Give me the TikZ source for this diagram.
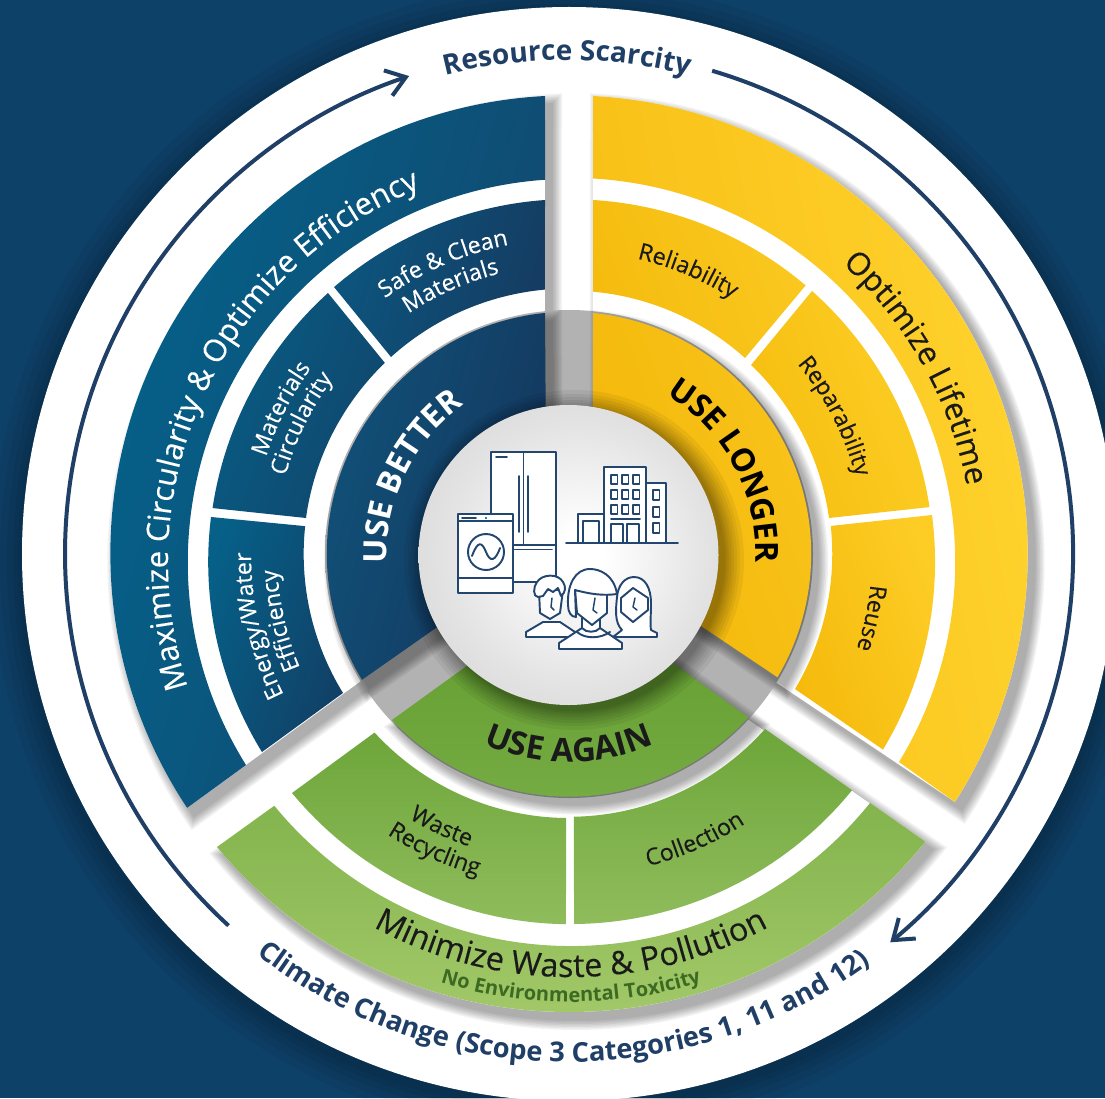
\documentclass[tikz,border=0pt]{standalone}
\usepackage{fontspec}
\setmainfont{Open Sans}
\newfontfamily\medf{Open Sans}[FakeBold=0.25]
\usetikzlibrary{decorations.text,arrows.meta}
\definecolor{navybg}{HTML}{0E4168}
\definecolor{ink}{HTML}{1F3F66}
\definecolor{icon}{HTML}{23466F}
\definecolor{txt}{HTML}{1A1A1A}
\definecolor{tox}{HTML}{3D6A23}
\pgfdeclareradialshading{hubshade}{\pgfpoint{2bp}{0bp}}{color(0bp)=(white);color(4bp)=(white);color(22bp)=(black!11);color(50bp)=(black!24);color(60bp)=(black!26)}
\pgfdeclareradialshading{grayshade}{\pgfpoint{0bp}{0bp}}{color(0bp)=(black!30);color(31bp)=(black!30);color(40bp)=(black!24);color(50bp)=(black!17)}
\newcommand\fs[1]{\fontsize{#1}{#1}\selectfont}
% ring-segment path: outer arc A->B, then inner arc C->D
\newcommand\Seg[9]{%
  \pgfmathsetmacro\aA{atan2(#3-\ocy,#2-\ocx)}%
  \pgfmathsetmacro\aB{atan2(#5-\ocy,#4-\ocx)}%
  \pgfmathsetmacro\aB{\aB+360*((\aB-\aA)<-180)-360*((\aB-\aA)>180)}%
  \pgfmathsetmacro\aC{atan2(#7-\icy,#6-\icx)}%
  \pgfmathsetmacro\aD{atan2(#9-\icy,#8-\icx)}%
  \pgfmathsetmacro\aD{\aD+360*((\aD-\aC)<-180)-360*((\aD-\aC)>180)}%
  \pgfmathsetmacro\rO{veclen(#2-\ocx,#3-\ocy)}%
  \pgfmathsetmacro\rI{veclen(#6-\icx,#7-\icy)}%
  \path[#1] (#2,#3) arc[start angle=\aA,end angle=\aB,radius=\rO] -- (#6,#7) arc[start angle=\aC,end angle=\aD,radius=\rI] -- cycle;%
}
\newcommand\RingA{\def\ocx{569}\def\ocy{554}\def\icx{571}\def\icy{562}}
\newcommand\RingB{\def\ocx{571}\def\ocy{562}\def\icx{569}\def\icy{554}}
\newcommand\RingC{\def\ocx{569}\def\ocy{554}\def\icx{569}\def\icy{554}}
% whole sectors, used for the cast shadows only
\newcommand\hBlue[1]{\RingC\Seg{#1}{545}{96}{187}{808}{480}{594}{545}{460}}
\newcommand\hYel[1]{\RingC\Seg{#1}{593}{96}{955}{802}{660}{605}{593}{452}}
\newcommand\hGrn[1]{\RingC\Seg{#1}{217}{847}{926}{842}{650}{652}{490}{644}}
% segments
\newcommand\sBlueOut[1]{\RingA\Seg{#1}{545}{96}{187}{808}{246}{765}{545}{179}}
\newcommand\sYelOut[1]{\RingA\Seg{#1}{593}{96}{955}{802}{899}{762}{593}{179}}
\newcommand\sGrnOut[1]{\RingA\Seg{#1}{217}{847}{926}{842}{870}{803}{274}{806}}
\newcommand\sSafe[1]{\RingB\Seg{#1}{545}{200}{334}{287}{391}{357}{545}{291}}
\newcommand\sMat[1]{\RingB\Seg{#1}{328}{293}{212}{508}{306}{518}{384}{362}}
\newcommand\sEner[1]{\RingB\Seg{#1}{211}{517}{262}{752}{343}{693}{304}{526}}
\newcommand\sRel[1]{\RingB\Seg{#1}{593}{200}{806}{285}{745}{358}{593}{292}}
\newcommand\sRep[1]{\RingB\Seg{#1}{812}{291}{930}{507}{829}{518}{752}{364}}
\newcommand\sReu[1]{\RingB\Seg{#1}{932}{515}{882}{749}{795}{689}{830}{526}}
\newcommand\sWas[1]{\RingB\Seg{#1}{292}{793}{566}{924}{566}{818}{373}{734}}
\newcommand\sCol[1]{\RingB\Seg{#1}{574}{924}{853}{791}{765}{729}{574}{818}}
\newcommand\sBlueIn[1]{\RingC\Seg{#1}{545}{313}{360}{681}{500}{583}{545}{479}}
\newcommand\sYelIn[1]{\RingC\Seg{#1}{593}{313}{777}{677}{640}{585}{593}{480}}
\newcommand\sGrnIn[1]{\RingC\Seg{#1}{392}{720}{748}{717}{620}{625}{520}{628}}
\newcommand\Shadow[1]{\foreach \w in {20,17,14,11,8,5,2}{\begin{scope}[transparency group,opacity=.05]#1{shift={(7,8)},fill=black,draw=black,line width=\w*0.75pt}\end{scope}}}
% curved labels: clockwise (letters outward) and counter-clockwise (letters inward)
\newcommand\CW[6]{\pgfmathsetmacro\ta{#5-85}\pgfmathsetmacro\tb{#5+85}%
  \path[decorate,decoration={text along path,text={|#1|#6},text align=center}] (#2,#3) ++(\ta:#4) arc[start angle=\ta,end angle=\tb,radius=#4];}
\newcommand\CCW[6]{\pgfmathsetmacro\ta{#5+85}\pgfmathsetmacro\tb{#5-85}%
  \path[decorate,decoration={text along path,text={|#1|#6},text align=center}] (#2,#3) ++(\ta:#4) arc[start angle=\ta,end angle=\tb,radius=#4];}
\tikzset{
  iconline/.style={draw=icon,line width=1.45pt,line join=round,line cap=round},
  iconfill/.style={iconline,fill=white},
  thinicon/.style={iconline,line width=1.1pt},
  ringline/.style={draw=ink,line width=3pt},
  arrowed/.style={-{Straight Barb[length=14pt,width=20pt,line width=3pt]}}
}
\begin{document}
\begin{tikzpicture}[x=0.75pt,y=-0.75pt]
\useasboundingbox (0,0) rectangle (1105,1098);
\clip (0,0) rectangle (1105,1098);
\fill[navybg] (0,0) rectangle (1105,1098);
% white disc with its shadow
\foreach \w in {30,22,15,9,4}{\fill[black,opacity=.05] (569,560) circle[radius=547+\w];}
\fill[white] (569,554) circle[radius=547];
% scarcity ring arrows
\draw[ringline,arrowed] (569,554) ++(132.5:504) arc[start angle=132.5,end angle=251.5,radius=504];
\draw[ringline,arrowed] (569,554) ++(286.5:504) arc[start angle=286.5,end angle=410.4,radius=504];
\CW{\fs{21}\bfseries\color{ink}}{567}{554}{494}{270}{Resource Scarcity}
\CCW{\fs{20.5}\bfseries\color{ink}}{569}{554}{508}{90.8}{Climate Change (Scope 3 Categories 1, 11 and 12)}
% shadows of the whole sectors on the white
\Shadow\hBlue \Shadow\hYel \Shadow\hGrn
\hBlue{fill=white} \hYel{fill=white} \hGrn{fill=white}
% hub backing disc
\path[shading=grayshade] (569,554) circle[radius=244];
% shadows of the inner band
\Shadow\sBlueIn \Shadow\sYelIn \Shadow\sGrnIn
% outer band
\sBlueOut{shade,left color={rgb,255:red,4;green,98;blue,139},right color={rgb,255:red,19;green,70;blue,108},shading angle=75}
\sYelOut{shade,left color={rgb,255:red,247;green,190;blue,20},right color={rgb,255:red,255;green,211;blue,46},shading angle=100}
\sGrnOut{shade,top color={rgb,255:red,131;green,180;blue,77},bottom color={rgb,255:red,165;green,202;blue,107}}
% middle band
\sSafe{shade,left color={rgb,255:red,12;green,85;blue,126},right color={rgb,255:red,21;green,60;blue,98},shading angle=75}
\sMat{shade,left color={rgb,255:red,8;green,92;blue,132},right color={rgb,255:red,17;green,70;blue,108},shading angle=70}
\sEner{shade,left color={rgb,255:red,6;green,96;blue,136},right color={rgb,255:red,17;green,64;blue,102},shading angle=70}
\sRel{shade,left color={rgb,255:red,245;green,188;blue,14},right color={rgb,255:red,250;green,200;blue,32},shading angle=110}
\sRep{shade,left color={rgb,255:red,246;green,190;blue,16},right color={rgb,255:red,253;green,206;blue,38},shading angle=110}
\sReu{shade,left color={rgb,255:red,245;green,186;blue,12},right color={rgb,255:red,253;green,205;blue,38},shading angle=110}
\sWas{shade,top color={rgb,255:red,109;green,166;blue,58},bottom color={rgb,255:red,144;green,188;blue,92}}
\sCol{shade,top color={rgb,255:red,109;green,166;blue,58},bottom color={rgb,255:red,144;green,188;blue,92}}
% inner band
\sBlueIn{shade,left color={rgb,255:red,16;green,82;blue,122},right color={rgb,255:red,21;green,54;blue,92},shading angle=75}
\sYelIn{shade,left color={rgb,255:red,243;green,183;blue,8},right color={rgb,255:red,249;green,196;blue,28},shading angle=110}
\sGrnIn{shade,top color={rgb,255:red,100;green,158;blue,48},bottom color={rgb,255:red,118;green,172;blue,68}}
% hub
\foreach \w in {20,16,13,10,7.5,5,3,1}{\fill[black,opacity=.055] (574,560) circle[radius=150+\w];}
\path[shading=hubshade] (568.5,555) circle[radius=150];
% fridge
\draw[iconfill] (491,452) rectangle (556,582);
\draw[iconline] (523.5,452) -- (523.5,545) (513,545) -- (556,545) (513,549.5) -- (552,549.5)
  (496,457) -- (507,457) (519,476) -- (519,532) (527.7,476) -- (527.7,532);
% washer
\draw[iconfill] (458,514) rectangle (513,593);
\draw[iconline] (458,521) -- (513,521) (458,578) -- (513,578) (462,518) -- (476,518);
\fill[cyan!70!blue] (485,517) rectangle (487,519);
\draw[iconline] (486,552) circle[radius=18];
\draw[iconline] (472,556) .. controls (478,540) and (482,542) .. (486,552) .. controls (490,562) and (495,562) .. (500,548);
% buildings
\draw[iconfill] (578,514) rectangle (604,543);
\draw[iconline] (583,543) -- (583,521) -- (599,521) -- (599,543);
\draw[iconfill] (604,467) rectangle (646,543);
\draw[iconfill] (646,483) rectangle (666,543);
\foreach \xa in {611,622,633}\foreach \ya in {475,490,505}{\draw[thinicon] (\xa,\ya) rectangle (\xa+6.5,\ya+9);}
\draw[iconline] (611,519) -- (640,519);
\draw[iconline] (611,543) -- (611,524) -- (623,524) -- (623,543) (627,543) -- (627,524) -- (639,524) -- (639,543);
\foreach \ya in {490,507,523}{\draw[thinicon] (653,\ya) rectangle (659.5,\ya+10);}
\draw[iconline] (566,543) -- (678,543);
% woman on the right
\draw[iconfill] (613,637) -- (622,630) .. controls (614,622) and (616,608) .. (617,597) .. controls (618,585) and (625,577) .. (634,577) .. controls (645,577) and (651,588) .. (651,603) .. controls (651,615) and (650,624) .. (651,630) -- (657,633) -- (657,637) -- cycle;
\draw[iconline] (633,588) -- (648,598) -- (648,610) -- (633,622) -- (621,612) -- (621,598) -- cycle;
\draw[thinicon] (635,598) -- (633,607) -- (637,610);
% man on the left
\draw[iconfill] (526,637) -- (526,632) -- (543,622) -- (560,622) -- (578,634) -- (578,637) -- cycle;
\draw[iconfill] (539,590) -- (540,613) -- (550,619) -- (560,613) -- (563,590) -- cycle;
\draw[iconfill] (538,597) .. controls (533,597) and (533,587) .. (537,582) .. controls (542,574) and (558,573) .. (563,582) .. controls (566,587) and (566,592) .. (561,596) -- (558,588) -- (553,592) -- (548,589) -- (543,596) -- cycle;
\draw[thinicon] (552,598) -- (551,607) -- (554,610);
% woman in the middle
\draw[iconfill] (559,649) -- (559,643) -- (582,628) -- (600,628) -- (622,643) -- (622,649) -- cycle;
\draw[iconline] (577,632) .. controls (585,639) and (600,639) .. (610,632);
\draw[iconfill] (582,618) -- (582,628) .. controls (586,633) and (596,633) .. (600,628) -- (600,618) -- cycle;
\draw[iconfill] (575,590) -- (577,613) -- (592,625) -- (607,613) -- (607,592) -- cycle;
\draw[iconfill] (617,594) .. controls (614,575) and (600,569) .. (590,569) .. controls (575,569) and (567,585) .. (568,605) .. controls (568,612) and (571,617) .. (576,617) -- (575,590) .. controls (590,594) and (603,596) .. (617,594) -- cycle;
\draw[thinicon] (595,598) -- (593,610) -- (597,613);
% labels
\CW{\medf\fs{23.3}\color{white}}{571}{562}{403}{205}{Maximize Circularity {\&} Optimize Efficiency}
\CW{\medf\fs{23.6}\color{txt}}{571}{562}{403}{330.7}{Optimize Lifetime}
\CCW{\medf\fs{24.2}\color{txt}}{571}{562}{415}{90}{Minimize Waste {\&} Pollution}
\CCW{\fs{15}\bfseries\color{tox}}{571}{562}{440}{90}{No Environmental Toxicity}
\CW{\medf\fs{17.4}\color{white}}{569}{554}{315}{246.6}{Safe {\&} Clean}
\CW{\medf\fs{17.4}\color{white}}{569}{554}{289}{246.2}{Materials}
\CW{\medf\fs{17.4}\color{white}}{569}{554}{318}{206.8}{Materials}
\CW{\medf\fs{17.4}\color{white}}{569}{554}{294}{206}{Circularity}
\CW{\medf\fs{17.4}\color{white}}{569}{554}{318}{167}{Energy/Water}
\CW{\medf\fs{17.4}\color{white}}{569}{554}{292}{167}{Efficiency}
\CW{\medf\fs{17.4}\color{txt}}{569}{554}{303}{292.8}{Reliability}
\CW{\medf\fs{17.4}\color{txt}}{569}{554}{297}{332.6}{Reparability}
\CW{\medf\fs{17.4}\color{txt}}{569}{554}{303}{12}{Reuse}
\CCW{\medf\fs{17.4}\color{txt}}{569}{554}{309}{115}{Waste}
\CCW{\medf\fs{17.4}\color{txt}}{569}{554}{334}{114.4}{Recycling}
\CCW{\medf\fs{17.4}\color{txt}}{569}{554}{322}{66.3}{Collection}
\CW{\fs{24}\bfseries\color{white}}{569}{554}{182}{206}{USE BETTER}
\CW{\fs{24}\bfseries\color{black}}{569}{554}{187}{332}{USE LONGER}
\CCW{\fs{24.5}\bfseries\color{txt}}{569}{554}{208}{90}{USE AGAIN}
\end{tikzpicture}
\end{document}
